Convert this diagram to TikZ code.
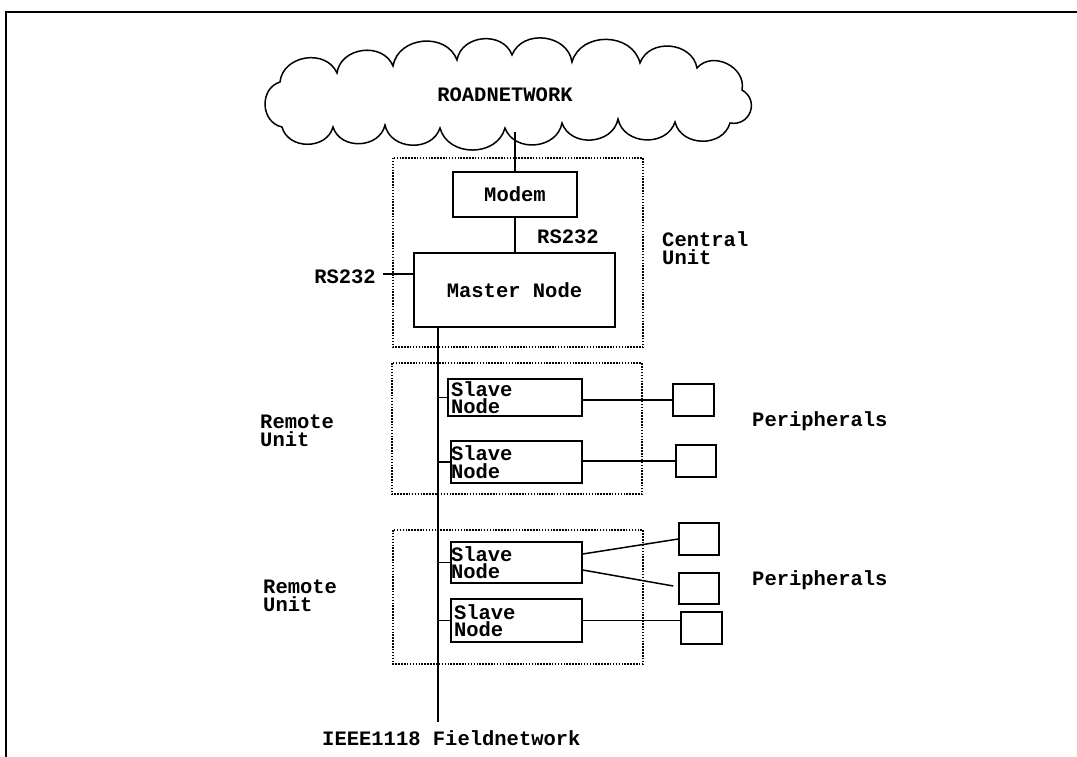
\documentclass[tikz,border=0pt]{standalone}
\usepackage{fontspec}
\newfontfamily\monofam{Liberation Mono}
\usetikzlibrary{calc}
\begin{document}
\begin{tikzpicture}[x=1pt,y=-1pt,
  every node/.style={font=\monofam\bfseries\fontsize{20.5}{17.5}\selectfont},
  ln/.style={line width=1.5pt},
  box/.style={draw,line width=1.5pt,rectangle,inner sep=0pt},
  dotbox/.style={line width=1.6pt,dash pattern=on 1.5pt off 1.4pt},
  slave/.style={box,align=left,inner xsep=3pt},
  cb/.style={bend left=75,looseness=1.2},
  lbl/.style={align=left,anchor=west,inner sep=0pt}]
\useasboundingbox (0,0) rectangle (1077,757);
% frame
\draw[line width=2pt] (6,757) -- (6,12) -- (1077,12);
% cloud
\draw[ln] (280,82) to[cb] (337,73) to[cb] (393,66) to[cb] (457,60) to[cb] (512,55)
  to[cb] (572,62) to[cb] (640,63) to[cb] (697,68) to[cb] (742,90)
  to[bend left=80,looseness=1.5] (730,123) to[cb] (675,122) to[cb] (618,119) to[cb] (562,123)
  to[cb] (505,128) to[cb] (440,128) to[cb] (385,125) to[cb] (333,127)
  to[cb] (282,127) to[bend left=75,looseness=1.25] cycle;
\node (road) at (505,95) {ROADNETWORK};
\coordinate (cloudbot) at (515,132);
% central unit
\draw[dotbox] (393,158) rectangle (643,347);
\node[box,minimum width=124pt,minimum height=45pt] (modem) at (515,194.5) {Modem};
\node[box,minimum width=201pt,minimum height=74pt] (master) at (514.5,290) {Master Node};
\draw[ln] (cloudbot) -- (modem.north);
\draw[ln] (modem.south) -- (modem.south |- master.north);
\node[lbl] (rsr) at (537,237) {RS232};
\node[lbl,anchor=east] (rsl) at (376,277) {RS232};
\coordinate (rsend) at (383,274);
\draw[ln] (rsend) -- (rsend -| master.west);
\node[lbl] (central) at (662,248) {Central\\Unit};
% bus
\coordinate (bustop) at (438,327);
\coordinate (busbot) at (438,722);
\draw[ln] (bustop) -- (busbot);
\node[lbl] (field) at (322,738) {IEEE1118 Fieldnetwork};
% remote unit 1
\draw[dotbox] (392,363) rectangle (642,494);
\node[slave,minimum width=134pt,minimum height=37pt,text width=128pt] (s1) at (515,397.5) {Slave\\Node};
\node[slave,minimum width=131pt,minimum height=42pt,inner xsep=0pt,text width=131pt] (s2) at (516.5,462) {Slave\\Node};
\node[box,minimum width=41pt,minimum height=32pt] (p1) at (693.5,400) {};
\node[box,minimum width=40pt,minimum height=32pt] (p2) at (696,461) {};
\draw[ln] (s1.west) -- (s1.west -| bustop);
\draw[ln] (s2.west) -- (s2.west -| bustop);
\draw[ln] (s1.east |- p1.west) -- (p1.west);
\draw[ln] (s2.east |- p2.west) -- (p2.west);
\node[lbl] (rem1) at (260,431) {Remote\\Unit};
\node[lbl] (per1) at (752,421) {Peripherals};
% remote unit 2
\draw[dotbox] (393,530) rectangle (643,664);
\node[slave,minimum width=131pt,minimum height=41pt,text width=131pt,inner xsep=0pt] (s3) at (516.5,562.5) {Slave\\Node};
\node[slave,minimum width=131pt,minimum height=43pt,text width=125pt] (s4) at (516.5,620.5) {Slave\\Node};
\node[box,minimum width=40pt,minimum height=32pt] (p3) at (699,539) {};
\node[box,minimum width=40pt,minimum height=31pt] (p4) at (699,588.5) {};
\node[box,minimum width=41pt,minimum height=32pt] (p5) at (701.5,628) {};
\draw[ln] (s3.west) -- (s3.west -| bustop);
\draw[ln] (s4.west) -- (s4.west -| bustop);
\draw[ln] ($(s3.east)+(0,-8.5)$) -- (p3.west);
\draw[ln] ($(s3.east)+(0,7.5)$) -- ($(p4.west)+(-5,-2.5)$);
\draw[ln] (s4.east) -- (s4.east -| p5.west);
\node[lbl] (rem2) at (263,596) {Remote\\Unit};
\node[lbl] (per2) at (752,580) {Peripherals};
\end{tikzpicture}
\end{document}
